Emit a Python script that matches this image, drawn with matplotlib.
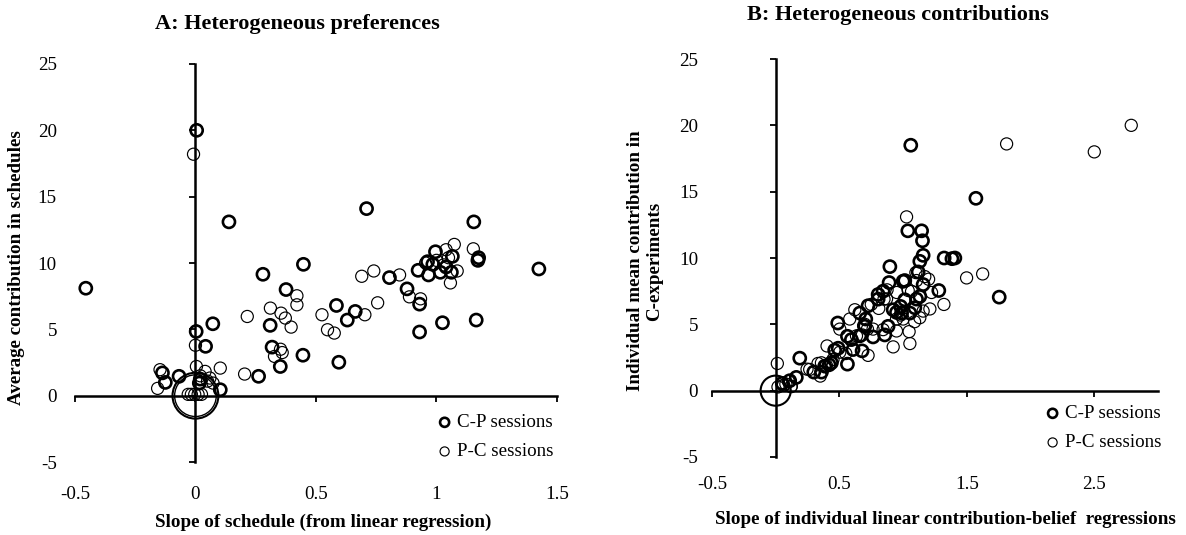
import matplotlib.pyplot as plt

plt.rcParams['font.family'] = ['Liberation Serif', 'DejaVu Serif']

# ---------- data ----------
# Panel A: slope of schedule vs average contribution in schedules
a_cp_x = [-0.455, 0.005, 0.139, 0.710, 1.155, 1.425, 0.448, 0.280, 0.376, 0.585,
          0.663, 0.630, 0.805, 0.878, 0.924, 0.930, 0.930, 1.025, 1.165, 1.172,
          1.175, 1.066, 0.996, 0.963, 0.967, 1.016, 1.062, 0.985, 1.040, 0.072,
          0.003, 0.042, 0.310, 0.318, 0.352, 0.446, 0.595, 0.262, -0.068, -0.137,
          -0.125, 0.103, 0.016, 0.020]
a_cp_y = [8.1, 20.0, 13.1, 14.1, 13.1, 9.55, 9.9, 9.15, 8.0, 6.8,
          6.35, 5.7, 8.9, 8.05, 9.45, 6.9, 4.8, 5.5, 5.7, 10.2,
          10.4, 10.5, 10.85, 10.1, 9.1, 9.3, 9.3, 9.9, 9.7, 5.42,
          4.84, 3.72, 5.3, 3.66, 2.2, 3.05, 2.52, 1.46, 1.46, 1.72,
          1.0, 0.45, 0.95, 1.25]

a_pc_x = [-0.008, 0.000, -0.147, -0.157, 0.103, 0.004, 0.040, 0.060, 0.073, -0.030,
          -0.017, -0.003, 0.011, 0.025, 0.215, 0.204, 0.311, 0.355, 0.373, 0.397,
          0.421, 0.421, 0.328, 0.353, 0.360, 0.525, 0.548, 0.576, 0.690, 0.740,
          0.756, 0.703, 0.847, 0.888, 0.934, 1.074, 1.153, 1.040, 1.086, 1.058,
          1.000, 1.030, 0.955, 1.050, 0.020, 0.050]
a_pc_y = [18.2, 3.8, 1.96, 0.55, 2.08, 2.2, 1.83, 1.33, 0.95, 0.1,
          0.1, 0.1, 0.1, 0.1, 5.97, 1.63, 6.6, 6.22, 5.85, 5.17,
          7.53, 6.85, 2.96, 3.5, 3.25, 6.1, 4.97, 4.72, 9.0, 9.4,
          7.0, 6.1, 9.1, 7.45, 7.3, 11.4, 11.07, 11.0, 9.4, 8.5,
          10.2, 9.86, 10.0, 10.4, 1.5, 1.1]

# Panel B: slope of contribution-belief regression vs mean contribution
b_cp_x = [1.060, 1.571, 1.754, 1.322, 1.383, 1.406, 1.037, 1.145, 1.152, 1.157,
          1.131, 1.118, 0.896, 0.890, 1.013, 1.280, 1.157, 1.131, 0.804, 0.725,
          0.660, 0.707, 0.699, 0.487, 0.563, 0.594, 0.607, 0.563, 0.678, 0.764,
          0.856, 0.882, 0.922, 0.980, 1.013, 1.092, 1.053, 0.189, 0.419, 0.359,
          0.299, 0.162, 0.052, 0.110, 0.463, 0.843, 1.000, 0.988, 0.490, 0.948,
          1.105, 0.804, 0.660, 0.385, 0.437]
b_cp_y = [18.5, 14.5, 7.05, 10.0, 9.95, 10.0, 12.05, 12.05, 11.3, 10.2,
          9.75, 8.95, 9.35, 8.15, 8.3, 7.55, 8.0, 7.1, 7.25, 6.4,
          5.85, 5.4, 4.85, 5.1, 4.1, 3.85, 3.1, 2.0, 3.0, 4.05,
          4.2, 4.85, 6.1, 6.35, 6.85, 6.25, 5.85, 2.45, 1.95, 1.4,
          1.4, 1.0, 0.55, 0.75, 3.05, 7.5, 8.25, 5.85, 3.2, 5.9,
          6.9, 6.9, 4.13, 1.85, 2.1]

b_pc_x = [2.790, 2.500, 1.812, 1.027, 1.498, 1.624, 1.320, 0.013, 0.922, 1.053,
          1.047, 0.948, 0.403, 0.621, 0.581, 0.725, 0.332, 0.246, 0.018, 0.809,
          1.066, 1.170, 1.157, 1.131, 1.223, 1.000, 0.764, 0.634, 0.398, 0.450,
          0.503, 0.874, 0.843, 0.950, 1.090, 1.200, 0.750, 0.680, 0.550, 0.350,
          0.060, 0.100, 0.120, 0.850, 0.980, 1.100, 0.700, 0.870, 0.948, 1.040,
          1.105, 1.210, 0.720, 0.503, 0.359, 0.267, 0.123, 0.080, 0.690]
b_pc_y = [20.0, 18.0, 18.6, 13.1, 8.5, 8.8, 6.5, 2.05, 3.3, 3.55,
          4.45, 4.5, 3.37, 6.1, 5.4, 2.66, 2.05, 1.62, 0.28, 6.2,
          7.48, 8.6, 6.0, 5.5, 7.4, 5.4, 4.64, 4.13, 1.9, 2.36,
          4.64, 7.6, 4.6, 7.4, 5.2, 8.4, 6.5, 4.2, 2.8, 1.1,
          0.4, 0.7, 0.3, 6.9, 5.7, 8.9, 5.0, 6.92, 5.4, 7.55,
          8.3, 6.16, 4.64, 2.9, 2.1, 1.6, 0.33, 0.5, 4.9]

# many subjects sit exactly at the origin -> drawn as one big bubble
zero_x = [0.0]
zero_y = [0.0]

a_xticks = [-0.5, 0, 0.5, 1, 1.5]
a_xlabels = ['-0.5', '0', '0.5', '1', '1.5']
b_xticks = [-0.5, 0.5, 1.5, 2.5]
b_xlabels = ['-0.5', '0.5', '1.5', '2.5']
yticks = [-5, 0, 5, 10, 15, 20, 25]
ylabels = ['-5', '0', '5', '10', '15', '20', '25']

FS = 13.7


def styleAxes(ax, xlim, xticks, xlabels, xpad, ypad):
    """Axes crossing at the origin, tick labels kept at the outer edges."""
    ax.set_xlim(*xlim)
    ax.set_ylim(-5, 25)
    for s in ['top', 'right']:
        ax.spines[s].set_visible(False)
    for s in ['left', 'bottom']:
        ax.spines[s].set_position(('data', 0))
        ax.spines[s].set_linewidth(1.8)
    ax.set_xticks(xticks)
    ax.set_yticks(yticks)
    ax.tick_params(direction='out', length=4, width=1.3,
                   labelleft=False, labelbottom=False)

    sx = ax.secondary_xaxis('bottom')
    sx.set_xticks(xticks, xlabels)
    sx.tick_params(length=0, pad=xpad, labelsize=FS)
    sy = ax.secondary_yaxis('left')
    sy.set_yticks(yticks, ylabels)
    sy.tick_params(length=0, pad=ypad, labelsize=FS)
    for sec in (sx, sy):
        for sp in sec.spines.values():
            sp.set_visible(False)


def addLegend(ax, handles, x, y):
    ax.legend(handles=handles, loc='upper left', bbox_to_anchor=(x, y),
              bbox_transform=fig.transFigure, frameon=False, fontsize=FS,
              handlelength=0.8, handletextpad=0.25, labelspacing=0.62,
              borderpad=0, borderaxespad=0, markerscale=0.75)


fig = plt.figure(figsize=(11.86, 5.35), dpi=100)
axA = fig.add_axes([0.0632, 0.1364, 0.4064, 0.744])
axB = fig.add_axes([0.6003, 0.1458, 0.3761, 0.7439])

styleAxes(axA, (-0.5, 1.5), a_xticks, a_xlabels, 17, 13)
styleAxes(axB, (-0.5, 3.0), b_xticks, b_xlabels, 14, 10)

# Panel A
pc = axA.scatter(a_pc_x, a_pc_y, s=76, facecolors='none', edgecolors='black',
                 linewidths=0.85, label='P-C sessions')
cp = axA.scatter(a_cp_x, a_cp_y, s=76, facecolors='none', edgecolors='black',
                 linewidths=1.9, label='C-P sessions')
axA.scatter(zero_x, zero_y, s=1090, facecolors='none', edgecolors='black', linewidths=1.5)
axA.scatter(zero_x, zero_y, s=900, facecolors='none', edgecolors='black', linewidths=1.0)
addLegend(axA, [cp, pc], 437 / 1186, 1 - 414 / 535)

# Panel B
pc = axB.scatter(b_pc_x, b_pc_y, s=76, facecolors='none', edgecolors='black',
                 linewidths=0.85, label='P-C sessions')
cp = axB.scatter(b_cp_x, b_cp_y, s=76, facecolors='none', edgecolors='black',
                 linewidths=1.9, label='C-P sessions')
axB.scatter(zero_x, zero_y, s=470, facecolors='none', edgecolors='black', linewidths=1.5)
addLegend(axB, [cp, pc], 1045 / 1186, 1 - 405 / 535)

# titles and axis labels
fig.text(297 / 1186, 1 - 24 / 535, 'A: Heterogeneous preferences',
         ha='center', va='center', fontsize=16, fontweight='bold')
fig.text(898 / 1186, 1 - 15 / 535, 'B: Heterogeneous contributions',
         ha='center', va='center', fontsize=16, fontweight='bold')
fig.text(17 / 1186, 1 - 268 / 535, 'Average contribution in schedules',
         ha='center', va='center', rotation=90, fontsize=FS, fontweight='bold')
fig.text(645 / 1186, 1 - 261 / 535, 'Individual mean contribution in\nC-experiments',
         ha='center', va='center', rotation=90, multialignment='center',
         fontsize=FS, fontweight='bold')
fig.text(323 / 1186, 1 - 522 / 535, 'Slope of schedule (from linear regression)',
         ha='center', va='center', fontsize=FS, fontweight='bold')
fig.text(945 / 1186, 1 - 519 / 535, 'Slope of individual linear contribution-belief  regressions',
         ha='center', va='center', fontsize=FS, fontweight='bold')

fig.savefig('out.png', dpi=100)
